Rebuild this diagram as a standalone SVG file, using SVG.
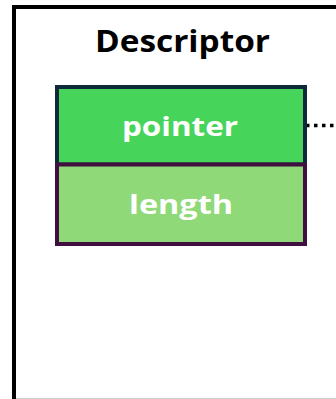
<svg xmlns="http://www.w3.org/2000/svg" width="336" height="399" viewBox="0 0 336 399">
  <style>
    .lbl { font-family: "Open Sans", "Liberation Sans", sans-serif; font-weight: bold; fill: #ffffff; text-anchor: middle; }
    .title { font-family: "Open Sans", "Liberation Sans", sans-serif; font-weight: bold; fill: #000000; text-anchor: middle; }
  </style>
  <rect width="336" height="399" fill="#ffffff"/>
  <g id="descriptor">
    <rect x="14" y="7" width="340" height="420" fill="#ffffff" stroke="#000000" stroke-width="4"/>
    <line x1="16" y1="398.5" x2="336" y2="398.5" stroke="#d0d0d0" stroke-width="1"/>
    <text class="title" x="182.5" y="51.5" font-size="31" textLength="175" lengthAdjust="spacingAndGlyphs">Descriptor</text>
  </g>
  <g id="connectors">
    <line x1="306" y1="125.5" x2="336" y2="125.5" stroke="#000000" stroke-width="3.5" stroke-dasharray="3.5 4.5"/>
  </g>
  <g id="pointer">
    <rect x="57" y="87" width="248" height="77.5" fill="#47D45B" stroke="#0E2A38" stroke-width="4"/>
    <text class="lbl" x="180" y="135.5" font-size="27.5" textLength="116" lengthAdjust="spacingAndGlyphs">pointer</text>
  </g>
  <g id="length">
    <rect x="57" y="164.5" width="248" height="79.5" fill="#8FD978" stroke="#3F0F3F" stroke-width="4"/>
    <text class="lbl" x="181" y="213.5" font-size="27.5" textLength="104" lengthAdjust="spacingAndGlyphs">length</text>
  </g>
</svg>
